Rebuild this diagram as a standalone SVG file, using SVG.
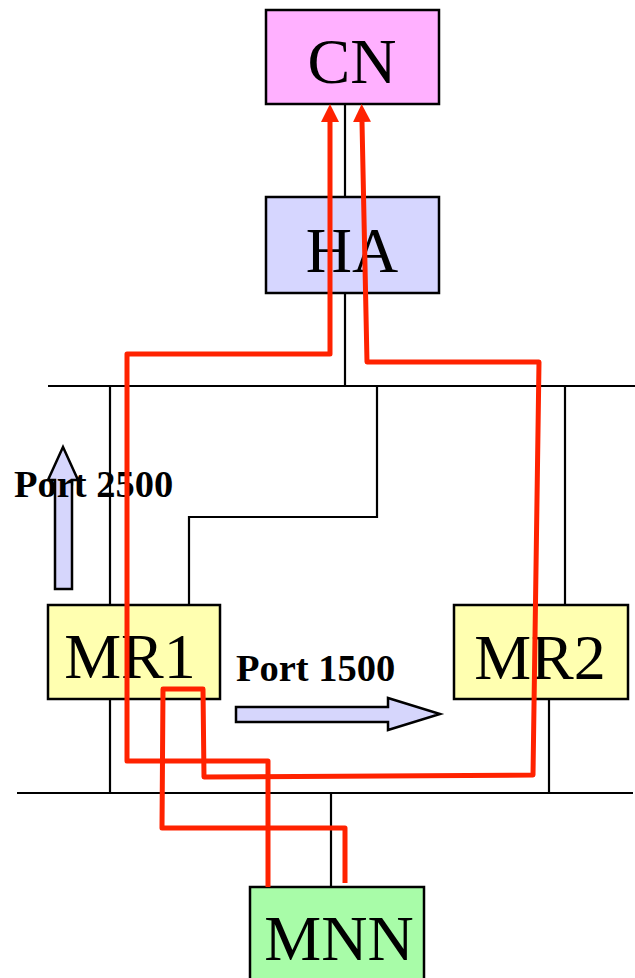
<svg xmlns="http://www.w3.org/2000/svg" width="635" height="978" viewBox="0 0 635 978">
<style>
.box{stroke:#000;stroke-width:2.5}
.lbl{font-family:"Liberation Serif","Times New Roman",serif;font-size:64px;fill:#000;text-anchor:middle}
.port{font-family:"Liberation Serif","Times New Roman",serif;font-size:38.5px;font-weight:bold;fill:#000}
.wire{fill:none;stroke:#000;stroke-width:2.2}
.flow{fill:none;stroke:#ff2200;stroke-width:5;stroke-linejoin:round}
.big{fill:#d6d6fc;stroke:#000;stroke-width:2.5;stroke-linejoin:miter}
</style>
<defs>
<marker id="ah" viewBox="0 0 18 18" refX="0" refY="9" markerWidth="18" markerHeight="18" markerUnits="userSpaceOnUse" orient="auto">
<path d="M0,0 L18,9 L0,18 z" fill="#ff2200"/>
</marker>
</defs>
<rect width="635" height="978" fill="#fff"/>
<g id="connectors">
<path class="wire" d="M345,104 V197"/>
<path class="wire" d="M345,293 V386"/>
<path class="wire" d="M48,386 H635"/>
<path class="wire" d="M377,386 V517 H189 V605"/>
<path class="wire" d="M110,386 V605"/>
<path class="wire" d="M110,699 V793"/>
<path class="wire" d="M565,386 V605"/>
<path class="wire" d="M549,699 V793"/>
<path class="wire" d="M17,793 H633"/>
<path class="wire" d="M331,793 V887"/>
</g>
<g id="CN">
<rect class="box" x="266" y="10" width="173" height="94" fill="#ffb0ff"/>
<text class="lbl" x="352" y="83">CN</text>
</g>
<g id="HA">
<rect class="box" x="266" y="197" width="173" height="96" fill="#d6d6ff"/>
<text class="lbl" x="352" y="272">HA</text>
</g>
<g id="MR1">
<rect class="box" x="48" y="605" width="172" height="94" fill="#ffffb0"/>
<text class="lbl" x="130" y="678">MR1</text>
</g>
<g id="MR2">
<rect class="box" x="454" y="605" width="174" height="94" fill="#ffffb0"/>
<text class="lbl" x="540" y="679">MR2</text>
</g>
<g id="MNN">
<rect class="box" x="250" y="887" width="174" height="100" fill="#a8fca8"/>
<text class="lbl" x="339" y="960">MNN</text>
</g>
<g id="port2500">
<path class="big" d="M55,589 V480 H48 L63,447 L78,480 H72 V589 Z"/>
<text class="port" x="14" y="497">Port 2500</text>
</g>
<g id="port1500">
<path class="big" d="M236,707 H388 V698 L440,714 L388,730 V722 H236 Z"/>
<text class="port" x="236" y="681">Port 1500</text>
</g>
<g id="flows">
<path class="flow" marker-end="url(#ah)" d="M268,887 L268,761 L127,761 L127,354 L330,354 L330,122"/>
<path class="flow" marker-end="url(#ah)" d="M345,883 L345,828 L162,828 L163,689 L203,689 L204,777 L533,775 L539,362 L367,362 L362,122"/>
</g>
</svg>
